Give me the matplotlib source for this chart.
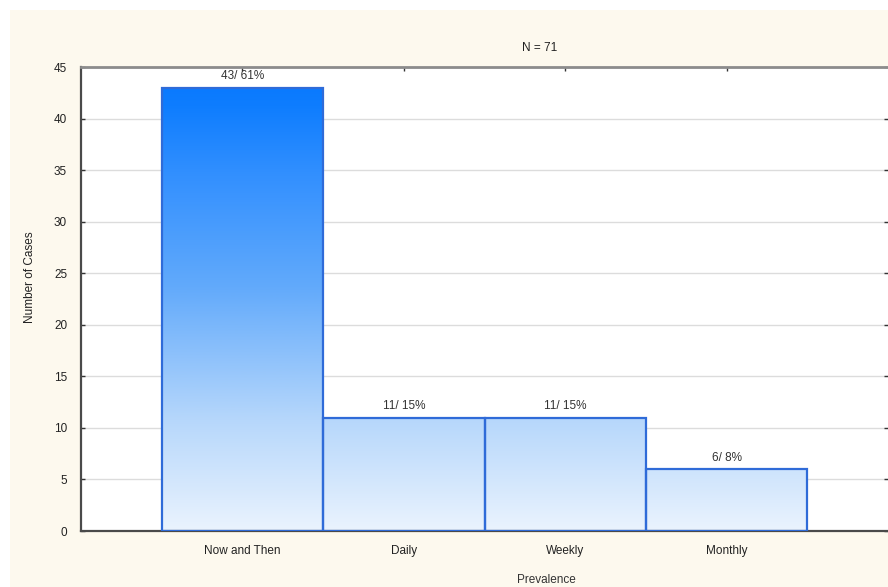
import numpy as np
import matplotlib
matplotlib.use("Agg")
import matplotlib.pyplot as plt
from matplotlib.colors import LinearSegmentedColormap
from matplotlib.patches import Rectangle

plt.rcParams['font.family'] = ['Liberation Sans', 'DejaVu Sans']

# Prevalence counts
categories = ["Now and Then", "Daily", "Weekly", "Monthly"]
counts = [43, 11, 11, 6]
percents = [61, 15, 15, 8]
n_total = 71

W, H = 888, 587
fig = plt.figure(figsize=(W / 100, H / 100), dpi=100, facecolor="white")

# cream panel behind the chart
fig.patches.append(Rectangle((10 / W, 0), 1, (H - 10) / H, transform=fig.transFigure,
                             facecolor="#fdf9ee", edgecolor="none", zorder=-10))

ax = fig.add_axes([81 / W, 56 / H, (W - 81) / W, 464 / H])
ax.set_facecolor("white")

x = np.arange(len(categories))
ax.set_xlim(-1, 4)
ax.set_ylim(0, 45)

# vertical gradient shared by all bars (deep blue at the top, pale at the bottom)
cmap = LinearSegmentedColormap.from_list("blues", [
    (0.0, "#eaf3fe"), (0.25, "#b6d7fb"), (0.55, "#62aafb"),
    (0.8, "#3390ff"), (0.96, "#0e7dfe"), (1.0, "#0a7afe")])
grad = np.linspace(0, 1, 256).reshape(-1, 1)

bars = ax.bar(x, counts, width=1.0, facecolor="none", edgecolor="#2f6bd8",
              linewidth=1.6, zorder=3)
for b in bars:
    im = ax.imshow(grad, cmap=cmap, aspect="auto", origin="lower",
                   extent=[-1, 4, 0, max(counts)], zorder=2)
    im.set_clip_path(b)

for xi, c, p in zip(x, counts, percents):
    ax.text(xi, c + 0.5, f"{c}/ {p}%", ha="center", va="bottom",
            fontsize=8.5, color="#333333", zorder=4)

ax.set_yticks(range(0, 46, 5))
ax.set_xticks(x)
ax.set_xticklabels(categories)
ax.yaxis.grid(True, color="#dcdcdc", linewidth=1)
ax.set_axisbelow(True)
ax.tick_params(axis="both", direction="in", length=3, width=1, color="#333333",
               labelsize=8.5, labelcolor="#222222", top=True, right=True)
ax.tick_params(axis="y", pad=10)
ax.tick_params(axis="x", pad=10)

for side in ("left", "bottom"):
    ax.spines[side].set_color("#4a4a4a")
    ax.spines[side].set_linewidth(1.6)
ax.spines["top"].set_color("#8c8c8c")
ax.spines["top"].set_linewidth(2)
ax.spines["right"].set_visible(False)

fig.text(540 / W, 1 - 48 / H, f"N = {n_total}", ha="center", va="center",
         fontsize=8.5, color="#222222")
fig.text(546 / W, 1 - 580 / H, "Prevalence", ha="center", va="center",
         fontsize=8.5, color="#333333")
fig.text(30 / W, 1 - 277 / H, "Number of Cases", ha="center", va="center",
         rotation=90, fontsize=8.5, color="#222222")

fig.savefig("out.png", dpi=100, facecolor=fig.get_facecolor())
